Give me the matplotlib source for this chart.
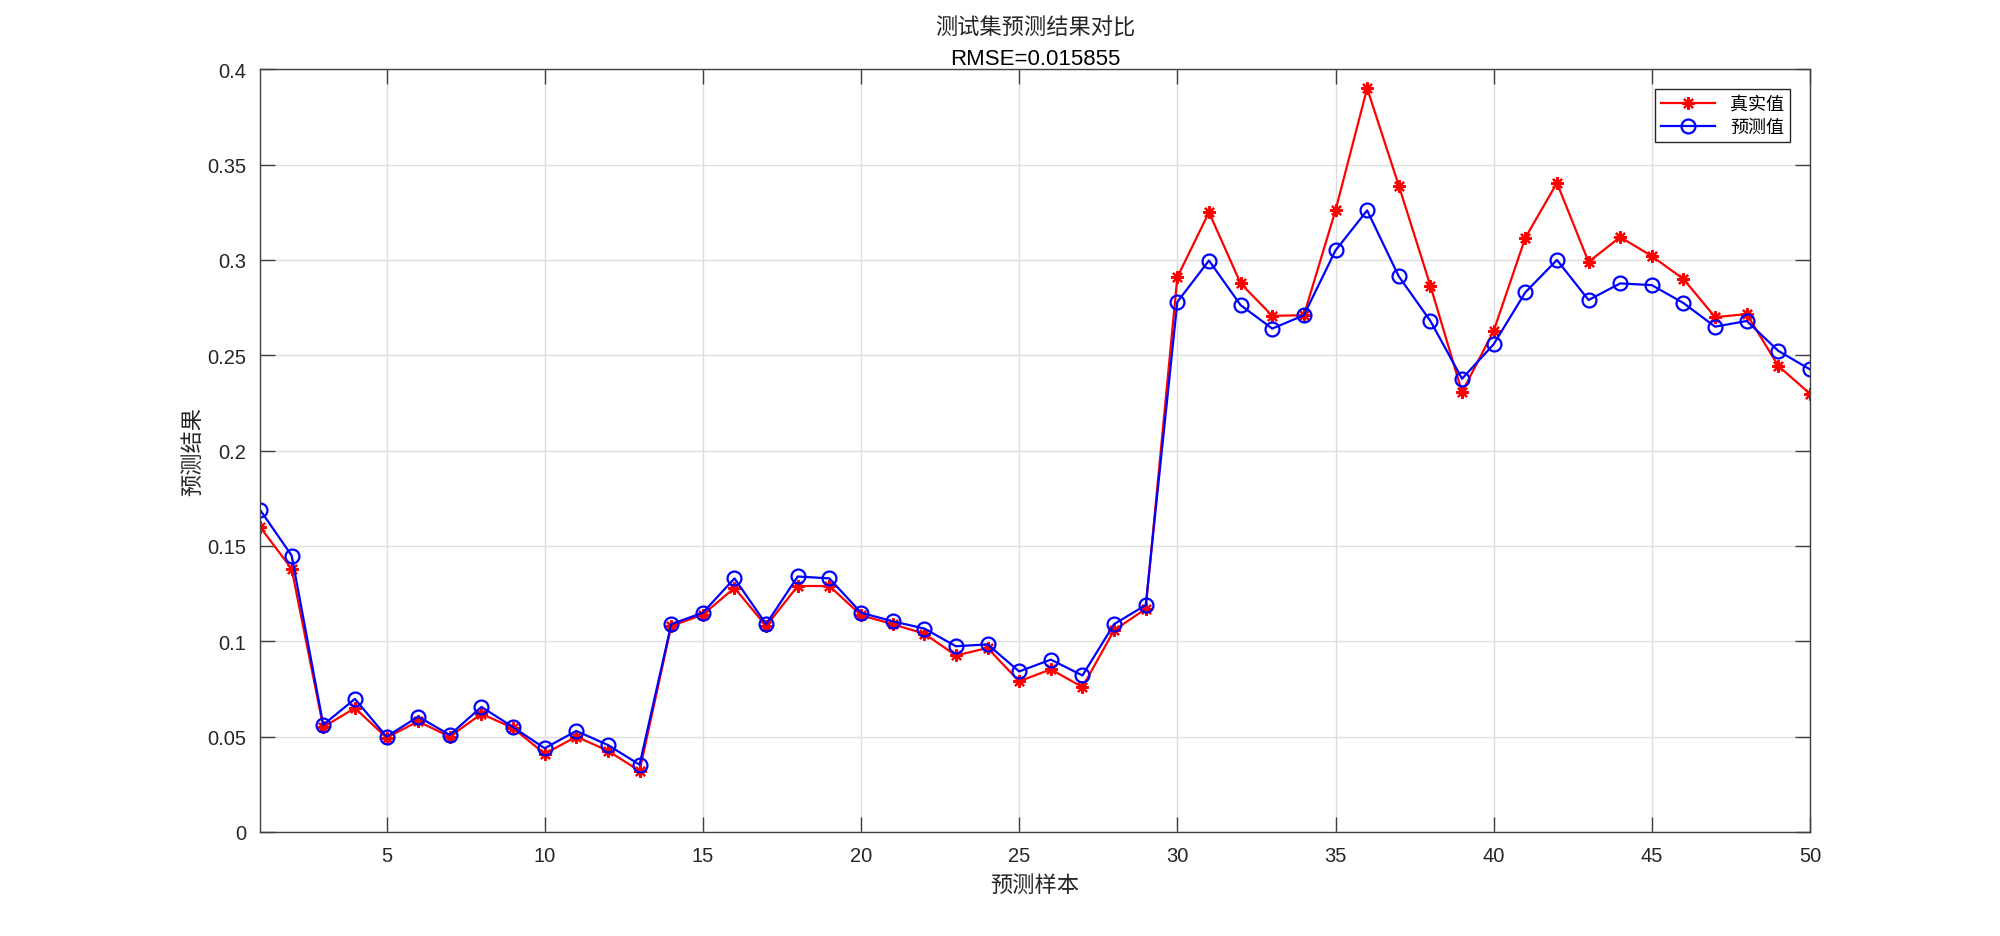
import numpy as np
import matplotlib
matplotlib.use('Agg')
import matplotlib.pyplot as plt

plt.rcParams['font.family'] = ['Liberation Sans', 'Noto Sans CJK SC', 'DejaVu Sans']

# test set: true values and predicted values, samples 1..50
samples = np.arange(1, 51)
y_true = [0.160, 0.138, 0.055, 0.065, 0.0495, 0.058, 0.050, 0.062, 0.0545, 0.041,
          0.050, 0.0426, 0.032, 0.108, 0.114, 0.128, 0.108, 0.129, 0.129, 0.1137,
          0.109, 0.104, 0.0926, 0.0965, 0.079, 0.0853, 0.076, 0.1058, 0.117, 0.291,
          0.325, 0.2877, 0.2707, 0.271, 0.326, 0.390, 0.339, 0.2865, 0.2307, 0.2628,
          0.3116, 0.3404, 0.299, 0.312, 0.302, 0.290, 0.270, 0.2716, 0.2444, 0.2298]
y_pred = [0.169, 0.145, 0.0562, 0.0698, 0.050, 0.0605, 0.0509, 0.0656, 0.055, 0.0439,
          0.053, 0.0456, 0.0353, 0.109, 0.115, 0.133, 0.109, 0.134, 0.133, 0.115,
          0.1105, 0.1067, 0.0974, 0.0984, 0.0842, 0.0904, 0.0821, 0.109, 0.119, 0.278,
          0.2997, 0.2763, 0.264, 0.271, 0.305, 0.326, 0.2914, 0.268, 0.2377, 0.2558,
          0.283, 0.300, 0.279, 0.2877, 0.2868, 0.2774, 0.265, 0.268, 0.2523, 0.2426]
rmse = 0.015855

cjk = ['Noto Sans CJK SC', 'DejaVu Sans']
axis_color = '#404040'
text_color = '#262626'

fig = plt.figure(figsize=(20, 9.37), dpi=100)
ax = fig.add_axes([0.13, 0.111, 0.775, 0.814])

# MATLAB-like '*' marker: 8-armed asterisk
ax.plot(samples, y_true, color='red', marker=(8, 2, 0), markersize=9, markeredgewidth=1.6,
        linewidth=1.6, label='真实值')
ax.plot(samples, y_pred, color='blue', marker='o', markersize=10, markerfacecolor='none',
        markeredgewidth=1.6, linewidth=1.6, label='预测值')

ax.set_xlim(1, 50)
ax.set_ylim(0, 0.4)
ax.set_xticks(np.arange(5, 51, 5))
ax.set_yticks(np.arange(0, 0.401, 0.05))
ax.set_yticklabels(['0', '0.05', '0.1', '0.15', '0.2', '0.25', '0.3', '0.35', '0.4'])

ax.grid(True, color='#dedede', linewidth=1)
ax.set_axisbelow(True)
ax.tick_params(direction='in', length=11, width=1, top=True, right=True,
               labelsize=14.5, colors=axis_color, labelcolor=text_color, pad=10)
for s in ax.spines.values():
    s.set_color(axis_color)
    s.set_linewidth(1)

ax.set_xlabel('预测样本', family=cjk, fontsize=16, color=text_color, labelpad=6)
ax.set_ylabel('预测结果', family=cjk, fontsize=16, color=text_color, labelpad=2)
ax.text(0.5, 1.055, '测试集预测结果对比', transform=ax.transAxes, ha='center', va='center',
        family=cjk, fontsize=16, color=text_color)
ax.set_title('RMSE=%g' % rmse, fontsize=16, color='#000000', pad=4)

leg = ax.legend(loc='upper right', prop={'family': cjk, 'size': 13}, fancybox=False,
                edgecolor=text_color, framealpha=1, borderaxespad=1.1, handlelength=3,
                labelspacing=0.25, borderpad=0.35)
leg.get_frame().set_linewidth(1)

fig.savefig('out.png', dpi=100, facecolor='white')
